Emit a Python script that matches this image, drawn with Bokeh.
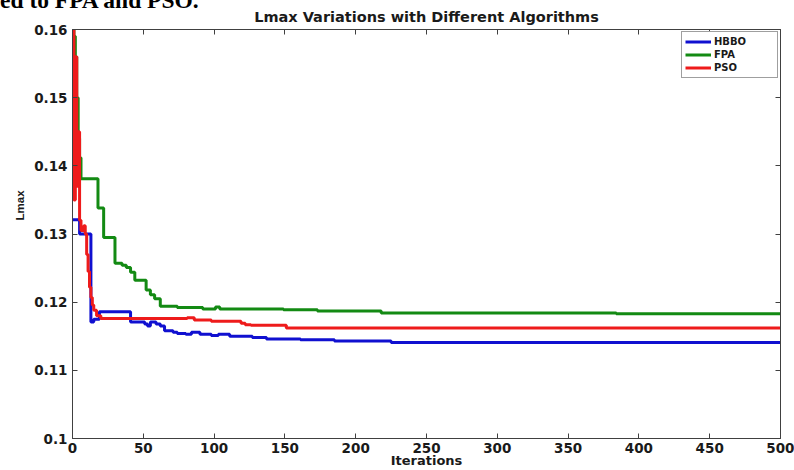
from bokeh.plotting import figure
from bokeh.models import Range1d, FixedTicker, LinearAxis, CustomJSTickFormatter, Div, Title
from bokeh.layouts import column
from bokeh.embed import file_html
from bokeh.resources import INLINE

# ---- texts ----
TITLE = "Lmax Variations with Different Algorithms"
X_LABEL = "Iterations"
Y_LABEL = "Lmax"
HEADER = "ed to FPA and PSO."

# ---- ticks ----
x_ticks = [0, 50, 100, 150, 200, 250, 300, 350, 400, 450, 500]
y_ticks = [0.10, 0.11, 0.12, 0.13, 0.14, 0.15, 0.16]
y_tick_labels = ["0.1", "0.11", "0.12", "0.13", "0.14", "0.15", "0.16"]

# ---- series (step breakpoints) ----
hbbo_iter = [0, 5, 13, 15, 19, 41, 51, 53, 55, 59, 62, 65, 71, 74, 80, 84, 90, 98,
             103, 111, 127, 137, 161, 185, 225, 500]
hbbo_val = [0.1321, 0.1300, 0.1171, 0.1175, 0.1186, 0.1171, 0.1168, 0.1165, 0.1171,
            0.1168, 0.1165, 0.1158, 0.1156, 0.1154, 0.1153, 0.1156, 0.1153, 0.1151,
            0.1153, 0.1150, 0.1148, 0.1146, 0.1145, 0.1143, 0.1141, 0.1141]

fpa_iter = [0, 1, 2, 3, 4, 5, 6, 18, 22, 30, 35, 38, 41, 44, 52, 55, 58, 62, 74, 92,
            101, 104, 130, 149, 173, 218, 384, 500]
fpa_val = [0.1600, 0.1590, 0.1560, 0.1500, 0.1440, 0.1412, 0.1381, 0.1338, 0.1295,
           0.1257, 0.1254, 0.1251, 0.1244, 0.1232, 0.1218, 0.1211, 0.1205, 0.1194,
           0.1192, 0.1190, 0.1193, 0.1190, 0.1190, 0.1189, 0.1187, 0.1184, 0.1183, 0.1183]

pso_iter = [0, 1, 2, 3, 4, 5, 6, 8, 9, 10, 11, 12, 13, 14, 15, 17, 20, 65, 81, 86, 98,
            119, 122, 126, 151, 500]
pso_val = [0.1600, 0.1350, 0.1560, 0.1370, 0.1450, 0.1320, 0.1305, 0.1312, 0.1300,
           0.1270, 0.1245, 0.1222, 0.1207, 0.1196, 0.1188, 0.1180, 0.1176, 0.1176,
           0.1177, 0.1174, 0.1172, 0.1169, 0.1167, 0.1166, 0.1162, 0.1162]

series = [
    ("HBBO", hbbo_iter, hbbo_val, "#1010d0"),
    ("FPA", fpa_iter, fpa_val, "#138a13"),
    ("PSO", pso_iter, pso_val, "#ee1b1b"),
]

AX = "#404040"
TXT = "#1a1a1a"

# fragment of the surrounding document text, cut by the top edge (overlays the plot's top border)
hdr = Div(text=HEADER, width=300, height=0, margin=0,
          styles={"overflow": "visible", "position": "relative", "z-index": "10",
                  "font-family": "Liberation Serif", "font-size": "23.5px",
                  "font-weight": "bold", "line-height": "0px",
                  "color": "#000000", "white-space": "nowrap"})

p = figure(width=794, height=470, output_backend="svg", toolbar_location=None,
           x_range=Range1d(0, 500), y_range=Range1d(0.1, 0.16),
           min_border_left=72, min_border_right=14, min_border_top=29, min_border_bottom=32)
p.grid.visible = False
p.outline_line_color = AX
p.background_fill_color = "white"
p.border_fill_color = "white"

p.title.text = TITLE
p.title.align = "center"
p.title.text_font = "DejaVu Sans"
p.title.text_font_style = "bold"
p.title.text_font_size = "14.5px"
p.title.text_color = TXT
p.title.standoff = 9

for name, xs, ys, col in series:
    p.step(xs, ys, mode="after", line_width=3, color=col, legend_label=name)

# bottom / left axes
xa = p.xaxis[0]
xa.ticker = FixedTicker(ticks=x_ticks)
ya = p.yaxis[0]
ya.ticker = FixedTicker(ticks=y_ticks)
ya.major_label_overrides = {t: l for t, l in zip(y_ticks, y_tick_labels)}
for ax in (xa, ya):
    ax.axis_line_color = AX
    ax.major_tick_line_color = AX
    ax.major_tick_in = 5
    ax.major_tick_out = 0
    ax.minor_tick_line_color = None
    ax.major_label_text_font = "DejaVu Sans"
    ax.major_label_text_font_style = "bold"
    ax.major_label_text_font_size = "13.5px"
    ax.major_label_text_color = TXT
    ax.axis_label_text_color = TXT
xa.major_label_standoff = 4
xa.axis_label = X_LABEL
xa.axis_label_text_font = "DejaVu Sans"
xa.axis_label_text_font_style = "bold"
xa.axis_label_text_font_size = "13px"
xa.axis_label_standoff = -3
ya.major_label_standoff = 5

# y label as a side title, placed above the middle like in the reference
p.add_layout(Title(text=Y_LABEL, align="left", offset=218, standoff=11,
                   text_font="Liberation Sans", text_font_style="bold",
                   text_font_size="11.5px", text_color=TXT), "left")

# top / right axes (ticks only, MATLAB box)
for loc, tk in (("above", x_ticks), ("right", y_ticks)):
    a = LinearAxis(ticker=FixedTicker(ticks=tk),
                   formatter=CustomJSTickFormatter(code="return ''"),
                   major_tick_in=5, major_tick_out=0, major_label_standoff=0,
                   axis_line_color=AX, major_tick_line_color=AX,
                   minor_tick_line_color=None)
    p.add_layout(a, loc)

lg = p.legend[0]
lg.location = "top_right"
lg.margin = 2
lg.padding = 3
lg.spacing = 0
lg.label_height = 13
lg.glyph_height = 13
lg.glyph_width = 26
lg.label_width = 60
lg.label_standoff = 3
lg.label_text_font = "DejaVu Sans"
lg.label_text_font_style = "bold"
lg.label_text_font_size = "10px"
lg.label_text_color = TXT
lg.border_line_color = AX
lg.border_line_width = 1
lg.background_fill_alpha = 1.0

layout = column(hdr, p, spacing=0)
open("out.html", "w").write(file_html(layout, INLINE))
